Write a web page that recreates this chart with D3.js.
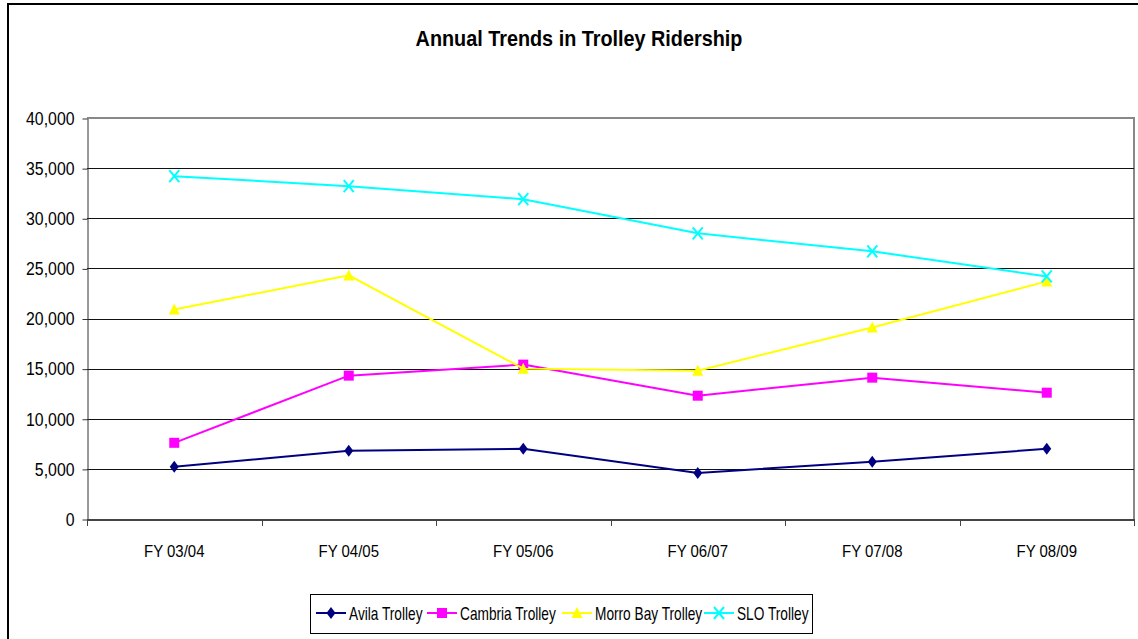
<!DOCTYPE html>
<html>
<head>
<meta charset="utf-8">
<script src="https://cdn.jsdelivr.net/npm/d3@7"></script>
<style>
  body { margin: 0; background: #fff; }
  svg text { font-family: "Liberation Sans", Arial, sans-serif; fill: #000; }
</style>
</head>
<body>
<svg id="chart" width="1138" height="639"></svg>
<script>
// values
const years = ['FY 03/04', 'FY 04/05', 'FY 05/06', 'FY 06/07', 'FY 07/08', 'FY 08/09'];
const avila = [5200, 6800, 7000, 4600, 5700, 7000];
const cambria = [7600, 14300, 15400, 12300, 14100, 12600];
const morroBay = [20900, 24300, 15000, 14800, 19100, 23700];
const slo = [34200, 33200, 31900, 28500, 26700, 24200];
const yTicks = [0, 5000, 10000, 15000, 20000, 25000, 30000, 35000, 40000];

const seriesList = [
    { name: 'Avila Trolley', values: avila, color: '#000080', marker: 'diamond' },
    { name: 'Cambria Trolley', values: cambria, color: '#ff00ff', marker: 'square' },
    { name: 'Morro Bay Trolley', values: morroBay, color: '#ffff00', marker: 'triangle' },
    { name: 'SLO Trolley', values: slo, color: '#00ffff', marker: 'cross' }
];

const svg = d3.select('#chart');

// the source font is a narrow one, squeeze the text a bit
function condense(sel, k) {
    sel.each(function () {
        const w = this.getComputedTextLength();
        d3.select(this).attr('textLength', w * k).attr('lengthAdjust', 'spacingAndGlyphs');
    });
}

// outer chart border
svg.append('rect')
    .attr('x', 8).attr('y', 4)
    .attr('width', 1140).attr('height', 650)
    .attr('fill', 'none').attr('stroke', '#000').attr('stroke-width', 2);

svg.append('text')
    .attr('x', 579).attr('y', 46)
    .attr('text-anchor', 'middle')
    .style('font-size', '22px').style('font-weight', 'bold')
    .text('Annual Trends in Trolley Ridership')
    .call(condense, 0.9);

const plot = { left: 87, top: 118, right: 1134, bottom: 519 };

const x = d3.scaleBand()
    .domain(years)
    .range([plot.left, plot.right]);

const y = d3.scaleLinear()
    .domain([0, 40000])
    .range([plot.bottom, plot.top]);

const g = svg.append('g');

// plot area frame (gray top/right)
g.append('path')
    .attr('d', `M${plot.left},${plot.top}H${plot.right}V${plot.bottom}`)
    .attr('fill', 'none').attr('stroke', '#888').attr('stroke-width', 2);

// gridlines
g.selectAll('.grid')
    .data(yTicks.filter((d) => d > 0 && d < 40000))
    .join('line')
    .attr('x1', plot.left).attr('x2', plot.right)
    .attr('y1', (d) => Math.round(y(d)) + 0.5)
    .attr('y2', (d) => Math.round(y(d)) + 0.5)
    .attr('stroke', '#111').attr('stroke-width', 1);

// y axis
const yAxis = d3.axisLeft(y)
    .tickValues(yTicks)
    .tickFormat(d3.format(','))
    .tickSizeInner(5).tickSizeOuter(0).tickPadding(8);

g.append('g')
    .attr('transform', `translate(${plot.left + 0.5},0.5)`)
    .call(yAxis)
    .call((a) => {
        a.select('.domain').attr('stroke', '#333');
        a.selectAll('line').attr('stroke', '#333');
        a.selectAll('text').style('font-size', '18px')
            .attr('font-family', null)
            .call(condense, 0.88);
    });

// x axis
const xAxis = d3.axisBottom(x)
    .tickSizeInner(0).tickSizeOuter(0).tickPadding(25);

g.append('g')
    .attr('transform', `translate(0,${plot.bottom + 0.5})`)
    .call(xAxis)
    .call((a) => {
        a.select('.domain').attr('stroke', '#444').attr('stroke-width', 2);
        a.selectAll('text').style('font-size', '17px')
            .attr('font-family', null)
            .call(condense, 0.88);
    });

// category separator ticks below axis
g.selectAll('.xtick')
    .data(d3.range(years.length + 1))
    .join('line')
    .attr('x1', (d) => Math.round(plot.left + d * x.bandwidth()) + 0.5)
    .attr('x2', (d) => Math.round(plot.left + d * x.bandwidth()) + 0.5)
    .attr('y1', plot.bottom).attr('y2', plot.bottom + 7)
    .attr('stroke', '#444');

const line = d3.line()
    .x((d, i) => x(years[i]) + x.bandwidth() / 2)
    .y((d) => y(d));

function drawMarker(sel, type, color) {
    if (type === 'diamond') {
        sel.append('path').attr('d', 'M0,-6L4.5,0L0,6L-4.5,0Z').attr('fill', color);
    } else if (type === 'square') {
        sel.append('rect').attr('x', -5).attr('y', -5).attr('width', 10).attr('height', 10).attr('fill', color);
    } else if (type === 'triangle') {
        sel.append('path').attr('d', 'M0,-6L5.5,5L-5.5,5Z').attr('fill', color);
    } else {
        sel.append('path').attr('d', 'M-5,-6L5,6M5,-6L-5,6').attr('stroke', color).attr('stroke-width', 2).attr('fill', 'none');
    }
}

seriesList.forEach((s) => {
    g.append('path')
        .datum(s.values)
        .attr('d', line)
        .attr('fill', 'none')
        .attr('stroke', s.color)
        .attr('stroke-width', 2);

    s.values.forEach((v, i) => {
        const m = g.append('g')
            .attr('transform', `translate(${x(years[i]) + x.bandwidth() / 2},${y(v)})`);
        drawMarker(m, s.marker, s.color);
    });
});

// legend
const legend = svg.append('g');
legend.append('rect')
    .attr('x', 310.5).attr('y', 594.5)
    .attr('width', 502).attr('height', 39)
    .attr('fill', '#fff').attr('stroke', '#000');

const legendX = [316, 427, 562, 704];
seriesList.forEach((s, i) => {
    const item = legend.append('g').attr('transform', `translate(${legendX[i]},613)`);
    item.append('line')
        .attr('x1', 0).attr('x2', 30)
        .attr('stroke', s.color).attr('stroke-width', 2);
    drawMarker(item.append('g').attr('transform', 'translate(15,0)'), s.marker, s.color);
    item.append('text')
        .attr('x', 33).attr('y', 7)
        .style('font-size', '19px')
        .text(s.name)
        .call(condense, 0.72);
});
</script>
</body>
</html>
